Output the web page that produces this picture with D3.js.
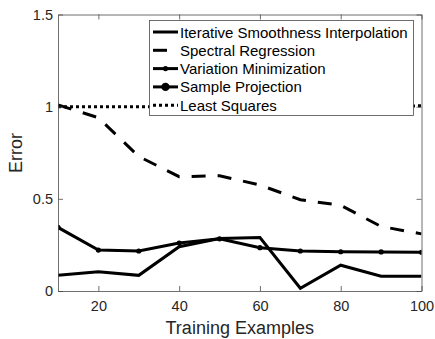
<!DOCTYPE html>
<html>
<head>
<meta charset="utf-8">
<script src="https://cdn.jsdelivr.net/npm/d3@7"></script>
<style>
  body { margin: 0; background: #fff; }
  svg { display: block; font-family: "Liberation Sans", Arial, sans-serif; }
</style>
</head>
<body>
<svg id="chart" width="435" height="339"></svg>
<script>
// training set sizes
var examples = [10, 20, 30, 40, 50, 60, 70, 80, 90, 100];

// error per method
var smoothness = [0.085, 0.105, 0.085, 0.24, 0.285, 0.29, 0.015, 0.14, 0.08, 0.08];
var spectral = [1.01, 0.94, 0.73, 0.62, 0.625, 0.575, 0.495, 0.465, 0.35, 0.31];
var variation = [0.345, 0.222, 0.217, 0.26, 0.283, 0.235, 0.217, 0.213, 0.212, 0.21];
var sampleProj = [null, null, null, null, null, null, null, null, null, null]; // not visible in range
var leastSq = [1.0, 1.0, 1.0, 1.0, 1.0, 1.0, 1.0, 1.0, 1.0, 1.005];

var xTicks = [20, 40, 60, 80, 100];
var yTicks = [0, 0.5, 1, 1.5];
var yTickLabels = ["0", "0.5", "1", "1.5"];

(function () {
    "use strict";
    var series = [
            {name: "Iterative Smoothness Interpolation", values: smoothness, dash: null, marker: 0},
            {name: "Spectral Regression", values: spectral, dash: "14,12", marker: 0},
            {name: "Variation Minimization", values: variation, dash: null, marker: 2.6},
            {name: "Sample Projection", values: sampleProj, dash: null, marker: 4.2},
            {name: "Least Squares", values: leastSq, dash: "3,3", marker: 0}
        ],
        svg = d3.select("#chart"),
        pLeft = 58, pRight = 421.5, pTop = 14.5, pBottom = 291,
        axisColor = "#4a4a4a",
        textColor = "#262626",
        x = d3.scaleLinear().domain([10, 100]).range([pLeft, pRight]),
        y = d3.scaleLinear().domain([0, 1.5]).range([pBottom, pTop]),
        plot, line, gx, gy, gxt, gyr, lg;

    svg.append("defs").append("clipPath").attr("id", "clip")
        .append("rect")
        .attr("x", pLeft).attr("y", pTop)
        .attr("width", pRight - pLeft).attr("height", pBottom - pTop);

    plot = svg.append("g").attr("clip-path", "url(#clip)");

    line = d3.line()
        .defined(function (d) { return d[1] !== null; })
        .x(function (d) { return x(d[0]); })
        .y(function (d) { return y(d[1]); });

    series.forEach(function (s) {
        var pts = examples.map(function (e, i) { return [e, s.values[i]]; });
        plot.append("path")
            .attr("d", line(pts))
            .attr("fill", "none")
            .attr("stroke", "#000")
            .attr("stroke-width", 3)
            .attr("stroke-dasharray", s.dash);
        if (s.marker) {
            plot.selectAll(null)
                .data(pts.filter(function (d) { return d[1] !== null; }))
                .enter().append("circle")
                .attr("cx", function (d) { return x(d[0]); })
                .attr("cy", function (d) { return y(d[1]); })
                .attr("r", s.marker)
                .attr("fill", "#000");
        }
    });

    // axes: bottom / left labelled, top / right ticks only (box on)
    gx = svg.append("g").attr("transform", "translate(0," + pBottom + ")")
        .call(d3.axisBottom(x).tickValues(xTicks).tickSizeInner(-5).tickSizeOuter(0).tickPadding(10));
    gy = svg.append("g").attr("transform", "translate(" + pLeft + ",0)")
        .call(d3.axisLeft(y).tickValues(yTicks).tickSizeInner(-5).tickSizeOuter(0).tickPadding(5)
            .tickFormat(function (d, i) { return yTickLabels[i]; }));
    gxt = svg.append("g").attr("transform", "translate(0," + pTop + ")")
        .call(d3.axisTop(x).tickValues(xTicks).tickSizeInner(-5).tickSizeOuter(0).tickFormat(""));
    gyr = svg.append("g").attr("transform", "translate(" + pRight + ",0)")
        .call(d3.axisRight(y).tickValues(yTicks).tickSizeInner(-5).tickSizeOuter(0).tickFormat(""));

    [gx, gy, gxt, gyr].forEach(function (g) {
        g.selectAll("path, line").attr("stroke", axisColor).attr("stroke-width", 0.8);
        g.selectAll("text").attr("fill", textColor).attr("font-size", 14.5)
            .attr("font-family", "'Liberation Sans', Arial, sans-serif");
    });

    svg.append("text")
        .attr("x", (pLeft + pRight) / 2).attr("y", 334)
        .attr("text-anchor", "middle")
        .attr("fill", textColor).attr("font-size", 18)
        .text("Training Examples");

    svg.append("text")
        .attr("transform", "translate(22,153) rotate(-90)")
        .attr("text-anchor", "middle")
        .attr("fill", textColor).attr("font-size", 18)
        .text("Error");

    // legend
    lg = svg.append("g");
    lg.append("rect")
        .attr("x", 149.5).attr("y", 20.5)
        .attr("width", 264).attr("height", 95)
        .attr("fill", "#fff")
        .attr("stroke", axisColor).attr("stroke-width", 0.8);

    series.forEach(function (s, i) {
        var ly = 32 + i * 18.3;
        lg.append("line")
            .attr("x1", 153).attr("x2", 178)
            .attr("y1", ly).attr("y2", ly)
            .attr("stroke", "#000").attr("stroke-width", 3)
            .attr("stroke-dasharray", s.dash);
        if (s.marker) {
            lg.append("circle").attr("cx", 165.5).attr("cy", ly)
                .attr("r", s.marker).attr("fill", "#000");
        }
        lg.append("text")
            .attr("x", 180).attr("y", ly + 5.5)
            .attr("fill", "#000").attr("font-size", 15)
            .text(s.name);
    });
}());
</script>
</body>
</html>
